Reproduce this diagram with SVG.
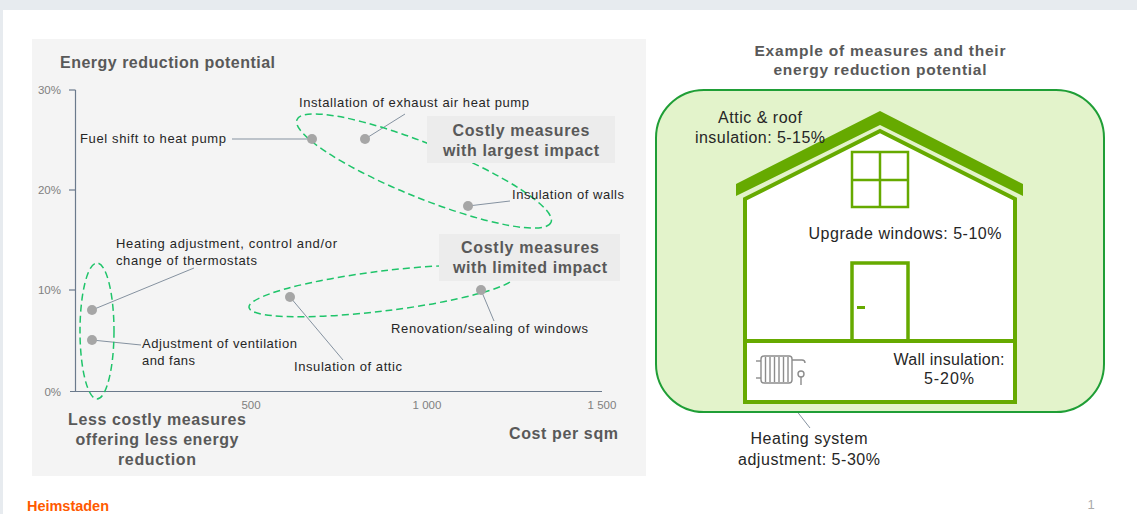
<svg xmlns="http://www.w3.org/2000/svg" width="1137" height="514" viewBox="0 0 1137 514">
<defs>
<style>
.lbl{font-family:"Liberation Sans",Arial,sans-serif;font-size:13px;fill:#262626}
.tick{font-family:"Liberation Sans",Arial,sans-serif;font-size:11.5px;fill:#808080}
.bold{font-family:"Liberation Sans",Arial,sans-serif;font-size:16px;font-weight:bold;fill:#595959}
.rl{font-family:"Liberation Sans",Arial,sans-serif;font-size:16px;fill:#262626}
.dot{fill:#a6a6a6}
.lead{stroke:#8592a0;stroke-width:1;fill:none}
.ell{fill:none;stroke:#1fc46a;stroke-width:1.5;stroke-dasharray:7 4}
.grn{fill:none;stroke:#66aa00}
.box{fill:#ececec}
</style>
</defs>
<rect x="0" y="0" width="1137" height="514" fill="#e7ebef"/>
<rect x="3" y="10" width="1134" height="504" fill="#ffffff"/>

<!-- Chart panel -->
<g id="chart">
<rect x="32" y="39" width="614" height="437" fill="#f4f4f4"/>
<text class="bold" x="60" y="68" textLength="215">Energy reduction potential</text>
<line x1="75.5" y1="90" x2="75.5" y2="392" stroke="#6b7a8c" stroke-width="1.2"/>
<line x1="70" y1="391.5" x2="602" y2="391.5" stroke="#6b7a8c" stroke-width="1.2"/>
<line x1="69" y1="90" x2="75.5" y2="90" stroke="#6b7a8c" stroke-width="1.2"/>
<line x1="69" y1="190" x2="75.5" y2="190" stroke="#6b7a8c" stroke-width="1.2"/>
<line x1="69" y1="290" x2="75.5" y2="290" stroke="#6b7a8c" stroke-width="1.2"/>
<text class="tick" x="61" y="94" text-anchor="end">30%</text>
<text class="tick" x="61" y="194" text-anchor="end">20%</text>
<text class="tick" x="61" y="294" text-anchor="end">10%</text>
<text class="tick" x="61" y="396" text-anchor="end">0%</text>
<text class="tick" x="251" y="409" text-anchor="middle">500</text>
<text class="tick" x="427" y="409" text-anchor="middle">1 000</text>
<text class="tick" x="602" y="409" text-anchor="middle">1 500</text>
</g>

<g id="connectors">
<line class="lead" x1="232" y1="139" x2="307" y2="139"/>
<line class="lead" x1="365" y1="139" x2="405" y2="114"/>
<line class="lead" x1="468" y1="206" x2="510" y2="201"/>
<line class="lead" x1="92" y1="310" x2="194" y2="268"/>
<line class="lead" x1="92" y1="340" x2="141" y2="345"/>
<line class="lead" x1="290" y1="297" x2="343" y2="360"/>
<line class="lead" x1="481" y1="290" x2="494" y2="321"/>
<line class="lead" x1="750" y1="148" x2="768" y2="167"/>
<line class="lead" x1="880" y1="207" x2="906" y2="221"/>
<line class="lead" x1="1013" y1="284" x2="950" y2="349"/>
<line class="lead" x1="781" y1="391" x2="810" y2="428"/>
</g>

<g id="group-largest">
<ellipse class="ell" cx="424" cy="171" rx="137" ry="27" transform="rotate(22 424 171)"/>
<rect class="box" x="427" y="116" width="188" height="47"/>
<text class="bold" x="521" y="136" text-anchor="middle" textLength="137">Costly measures</text>
<text class="bold" x="521" y="156" text-anchor="middle" textLength="156">with largest impact</text>
</g>
<g id="group-limited">
<ellipse class="ell" cx="383" cy="291" rx="135" ry="20" transform="rotate(-7 383 291)"/>
<rect class="box" x="439" y="234" width="181" height="47"/>
<text class="bold" x="530" y="253" text-anchor="middle" textLength="138">Costly measures</text>
<text class="bold" x="530" y="273" text-anchor="middle" textLength="154">with limited impact</text>
</g>
<g id="group-less">
<ellipse class="ell" cx="97" cy="331" rx="17" ry="68"/>
<text class="bold" x="157" y="425" text-anchor="middle" textLength="178">Less costly measures</text>
<text class="bold" x="157" y="445" text-anchor="middle" textLength="163">offering less energy</text>
<text class="bold" x="157" y="465" text-anchor="middle" textLength="78">reduction</text>
</g>
<text class="bold" x="618" y="439" text-anchor="end" textLength="109">Cost per sqm</text>

<g id="p-fuel"><circle class="dot" cx="312" cy="139" r="5"/><text class="lbl" x="80" y="143" textLength="146">Fuel shift to heat pump</text></g>
<g id="p-exhaust"><circle class="dot" cx="365" cy="139" r="5"/><text class="lbl" x="299" y="107" textLength="230">Installation of exhaust air heat pump</text></g>
<g id="p-walls"><circle class="dot" cx="468" cy="206" r="5"/><text class="lbl" x="512" y="199" textLength="112">Insulation of walls</text></g>
<g id="p-heating"><circle class="dot" cx="92" cy="310" r="5"/><text class="lbl" x="116" y="248" textLength="221">Heating adjustment, control and/or</text><text class="lbl" x="116" y="265" textLength="141">change of thermostats</text></g>
<g id="p-vent"><circle class="dot" cx="92" cy="340" r="5"/><text class="lbl" x="142" y="348" textLength="155">Adjustment of ventilation</text><text class="lbl" x="142" y="365" textLength="53">and fans</text></g>
<g id="p-attic"><circle class="dot" cx="290" cy="297" r="5"/><text class="lbl" x="294" y="371" textLength="108">Insulation of attic</text></g>
<g id="p-windows"><circle class="dot" cx="481" cy="290" r="5"/><text class="lbl" x="391" y="333" textLength="197">Renovation/sealing of windows</text></g>

<!-- Right side -->
<g id="house-panel">
<text class="bold" x="880" y="56" text-anchor="middle" textLength="251" style="font-size:15.5px">Example of measures and their</text>
<text class="bold" x="880" y="75" text-anchor="middle" textLength="213" style="font-size:15.5px">energy reduction potential</text>
<rect x="656" y="90" width="448" height="322" rx="48" ry="48" fill="#e3f3cb" stroke="#1f9e36" stroke-width="2"/>
</g>
<g id="house">
<polygon points="880,131 1015,199 1015,402 745,402 745,199" fill="#ffffff" stroke="#66aa00" stroke-width="4" stroke-linejoin="miter"/>
<polygon points="880,111 1023,184 1023,196 880,125 736,196 736,184" fill="#66aa00"/>
<line x1="745" y1="341" x2="1015" y2="341" stroke="#66aa00" stroke-width="4"/>
</g>
<g id="window">
<rect class="grn" x="852" y="152" width="56" height="55" stroke-width="2.5"/>
<line class="grn" x1="880" y1="152" x2="880" y2="207" stroke-width="2.5"/>
<line class="grn" x1="852" y1="180" x2="908" y2="180" stroke-width="2.5"/>
</g>
<g id="door">
<polyline class="grn" points="852,341 852,263 908,263 908,341" stroke-width="3.5"/>
<rect x="857" y="306" width="8" height="3" fill="#66aa00"/>
</g>
<g id="radiator" fill="none" stroke="#8c8c8c" stroke-width="1.4">
<rect x="761" y="356" width="31" height="27" rx="3"/>
<line x1="765.5" y1="357" x2="765.5" y2="382"/>
<line x1="770" y1="357" x2="770" y2="382"/>
<line x1="774.5" y1="357" x2="774.5" y2="382"/>
<line x1="779" y1="357" x2="779" y2="382"/>
<line x1="783.5" y1="357" x2="783.5" y2="382"/>
<line x1="788" y1="357" x2="788" y2="382"/>
<line x1="756" y1="361" x2="761" y2="361"/>
<line x1="756" y1="378" x2="761" y2="378"/>
<path d="M792 360 H802 Q805 360 805 363"/>
<circle cx="801" cy="374" r="3"/>
<line x1="801" y1="377" x2="801" y2="385"/>
</g>
<g id="lbl-attic"><text class="rl" x="760" y="123" text-anchor="middle" textLength="84">Attic &amp; roof</text><text class="rl" x="760" y="143" text-anchor="middle" textLength="130">insulation: 5-15%</text></g>
<g id="lbl-windows"><text class="rl" x="905" y="239" text-anchor="middle" textLength="193">Upgrade windows: 5-10%</text></g>
<g id="lbl-wall"><text class="rl" x="949" y="365" text-anchor="middle" textLength="111">Wall insulation:</text><text class="rl" x="949" y="384" text-anchor="middle" textLength="50">5-20%</text></g>
<g id="lbl-heating"><text class="rl" x="809" y="444" text-anchor="middle" textLength="117">Heating system</text><text class="rl" x="809" y="465" text-anchor="middle" textLength="142">adjustment: 5-30%</text></g>

<text x="27" y="511" font-family="Liberation Sans,Arial,sans-serif" font-size="14.5" font-weight="bold" fill="#ff5a00" textLength="82">Heimstaden</text>
<text x="1091" y="509" font-family="Liberation Sans,Arial,sans-serif" font-size="13" fill="#aaaaaa" text-anchor="middle">1</text>
</svg>
